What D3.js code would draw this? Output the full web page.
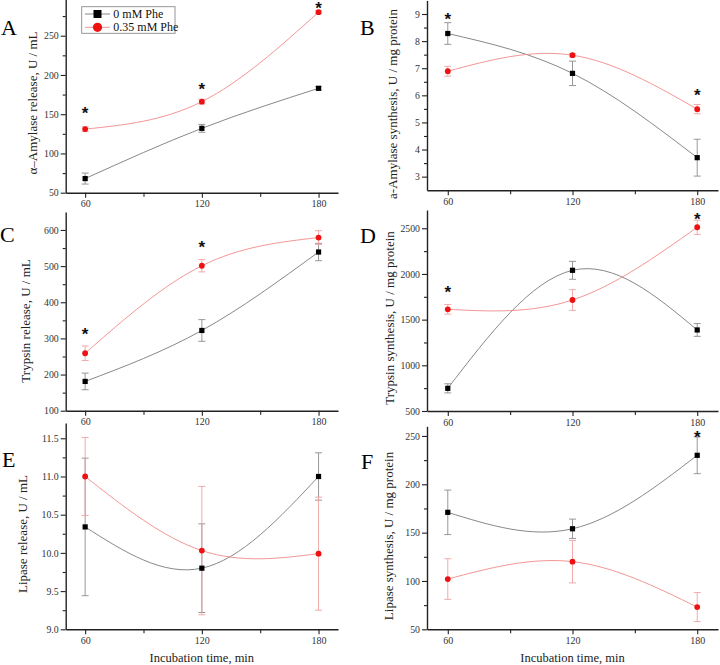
<!DOCTYPE html>
<html><head><meta charset="utf-8">
<script src="https://cdn.jsdelivr.net/npm/d3@7"></script>
<style>body{margin:0;background:#fff} svg{display:block}</style>
</head><body>
<svg id="chart" width="720" height="665"></svg>
<script>
// ---- data ----
const times = [60, 120, 180];
const xTicks = [60, 120, 180];
const xMinorTicks = [90, 150];
const seriesNames = ["0 mM Phe", "0.35 mM Phe"];

const amylRel0 = [68, 132, 183],      amylRel0Err = [7, 5, 2];
const amylRel35 = [131, 166, 280],    amylRel35Err = [3, 3, 2];
const amylSyn0 = [8.28, 6.81, 3.70],  amylSyn0Err = [0.40, 0.45, 0.68];
const amylSyn35 = [6.89, 7.48, 5.49], amylSyn35Err = [0.18, 0.06, 0.17];
const trypRel0 = [181, 322, 539],     trypRel0Err = [23, 30, 24];
const trypRel35 = [259, 501, 579],    trypRel35Err = [20, 17, 19];
const trypSyn0 = [748, 2040, 1387],   trypSyn0Err = [50, 98, 70];
const trypSyn35 = [1613, 1715, 2511], trypSyn35Err = [53, 113, 78];
const lipRel0 = [10.34, 9.80, 11.00], lipRel0Err = [0.90, 0.58, 0.31];
const lipRel35 = [11.00, 10.03, 9.99],lipRel35Err = [0.51, 0.84, 0.74];
const lipSyn0 = [171, 154, 230],      lipSyn0Err = [23, 10, 19];
const lipSyn35 = [102, 120, 73],      lipSyn35Err = [21, 22, 15];

// significance marks: [time, value]
const starsA = [[60, 156], [120, 187], [180, 290]];
const starsB = [[60, 8.97], [180, 6.16]];
const starsC = [[60, 323], [120, 563]];
const starsD = [[60, 1844], [180, 2647]];
const starsE = [];
const starsF = [[180, 253]];

const ticksA = [50, 100, 150, 200, 250],        minorA = [75, 125, 175, 225, 275];
const ticksB = [3, 4, 5, 6, 7, 8, 9],           minorB = [3.5, 4.5, 5.5, 6.5, 7.5, 8.5];
const ticksC = [100, 200, 300, 400, 500, 600],  minorC = [150, 250, 350, 450, 550];
const ticksD = [500, 1000, 1500, 2000, 2500],   minorD = [750, 1250, 1750, 2250];
const ticksE = [9.0, 9.5, 10.0, 10.5, 11.0, 11.5], minorE = [9.25, 9.75, 10.25, 10.75, 11.25];
const ticksF = [50, 100, 150, 200, 250],        minorF = [75, 125, 175, 225];

// ---- layout ----
const serif = "'Liberation Serif','Times New Roman',serif";
const colBlack = "#000", colBlackLine = "#7a7a7a", colBlackErr = "#8c8c8c";
const colRed = "#ee1111", colRedLine = "#f08a8a", colRedErr = "#f2a0a0";
const L = [65.7, 338], R = [427, 718];

const panels = [
  {letter:"A", title:"α–Amylase release, U / mL", v0:amylRel0, e0:amylRel0Err, v1:amylRel35, e1:amylRel35Err,
   stars:starsA, domain:[50,300], yRange:[192.7,-3.55], ticks:ticksA, minor:minorA, fmt:d3.format("d"),
   xRange:L, letterPos:[1,35], titlePos:[37,103], xTitle:false},
  {letter:"B", title:"a-Amylase synthesis, U / mg protein", v0:amylSyn0, e0:amylSyn0Err, v1:amylSyn35, e1:amylSyn35Err,
   stars:starsB, domain:[2.5,9.5], yRange:[190.2,0.45], ticks:ticksB, minor:minorB, fmt:d3.format("d"),
   xRange:R, letterPos:[360,35], titlePos:[397,104], xTitle:false},
  {letter:"C", title:"Trypsin release, U / mL", v0:trypRel0, e0:trypRel0Err, v1:trypRel35, e1:trypRel35Err,
   stars:starsC, domain:[100,650], yRange:[410.7,211.9], ticks:ticksC, minor:minorC, fmt:d3.format("d"),
   xRange:L, letterPos:[0,242], titlePos:[29.5,321], xTitle:false},
  {letter:"D", title:"Trypsin synthesis, U / mg protein", v0:trypSyn0, e0:trypSyn0Err, v1:trypSyn35, e1:trypSyn35Err,
   stars:starsD, domain:[500,2700], yRange:[411,210], ticks:ticksD, minor:minorD, fmt:d3.format("d"),
   xRange:R, letterPos:[360,243], titlePos:[394,318], xTitle:false},
  {letter:"E", title:"Lipase release, U / mL", v0:lipRel0, e0:lipRel0Err, v1:lipRel35, e1:lipRel35Err,
   stars:starsE, domain:[9,11.7], yRange:[629.3,423], ticks:ticksE, minor:minorE, fmt:d3.format(".1f"),
   xRange:L, letterPos:[2,467], titlePos:[27,534], xTitle:true},
  {letter:"F", title:"Lipase synthesis, U / mg protein", v0:lipSyn0, e0:lipSyn0Err, v1:lipSyn35, e1:lipSyn35Err,
   stars:starsF, domain:[50,260], yRange:[629.3,426.3], ticks:ticksF, minor:minorF, fmt:d3.format("d"),
   xRange:R, letterPos:[361,469], titlePos:[393,536], xTitle:true}
];

const svg = d3.select("#chart");

function styleAxis(sel) {
  sel.select(".domain").attr("stroke", "#222").attr("stroke-width", 1.4);
  sel.selectAll(".tick line").attr("stroke", "#222").attr("stroke-width", 1.1);
  sel.selectAll(".tick text").attr("fill", "#333").attr("font-family", serif);
}

panels.forEach(p => {
  const g = svg.append("g");
  const x = d3.scaleLinear().domain([50, 190]).range(p.xRange);
  const y = d3.scaleLinear().domain(p.domain).range(p.yRange);
  const x0 = p.xRange[0], yb = p.yRange[0];

  // Y axis
  const ya = g.append("g").attr("transform", `translate(${x0},0)`)
    .call(d3.axisLeft(y).tickValues(p.ticks).tickSize(5).tickSizeOuter(0).tickPadding(2).tickFormat(p.fmt));
  styleAxis(ya); ya.selectAll(".tick text").attr("font-size", 9.8);
  const ym = g.append("g").attr("transform", `translate(${x0},0)`)
    .call(d3.axisLeft(y).tickValues(p.minor).tickSize(3).tickFormat(""));
  ym.select(".domain").remove(); styleAxis(ym);

  // X axis
  const xa = g.append("g").attr("transform", `translate(0,${yb})`)
    .call(d3.axisBottom(x).tickValues(xTicks).tickSize(5).tickSizeOuter(0).tickPadding(2.5).tickFormat(d3.format("d")));
  styleAxis(xa); xa.selectAll(".tick text").attr("font-size", 10);
  const xm = g.append("g").attr("transform", `translate(0,${yb})`)
    .call(d3.axisBottom(x).tickValues(xMinorTicks).tickSize(4).tickFormat(""));
  xm.select(".domain").remove(); styleAxis(xm);

  // titles
  g.append("text").attr("transform", `translate(${p.titlePos[0]},${p.titlePos[1]}) rotate(-90)`)
    .attr("text-anchor", "middle").attr("font-family", serif).attr("font-size", 13).attr("fill", "#222")
    .text(p.title);
  if (p.xTitle) {
    g.append("text").attr("x", (p.xRange[0] + p.xRange[1]) / 2).attr("y", 662)
      .attr("text-anchor", "middle").attr("font-family", serif).attr("font-size", 12.5).attr("fill", "#222")
      .text("Incubation time, min");
  }
  g.append("text").attr("x", p.letterPos[0]).attr("y", p.letterPos[1])
    .attr("font-family", serif).attr("font-size", 22).attr("fill", "#000").text(p.letter);

  const series = [
    {v:p.v0, e:p.e0, line:colBlackLine, err:colBlackErr, fill:colBlack, shape:"square"},
    {v:p.v1, e:p.e1, line:colRedLine, err:colRedErr, fill:colRed, shape:"circle"}
  ];
  const line = d3.line().x(d => x(d[0])).y(d => y(d[1])).curve(d3.curveNatural);

  series.forEach(s => {
    const pts = times.map((t, i) => [t, s.v[i], s.e[i]]);
    const eb = g.append("g").attr("stroke", s.err).attr("stroke-width", 0.9).attr("fill", "none");
    pts.forEach(d => {
      const cx = x(d[0]), top = y(d[1] + d[2]), bot = y(d[1] - d[2]);
      eb.append("line").attr("x1", cx).attr("x2", cx).attr("y1", top).attr("y2", bot);
      eb.append("line").attr("x1", cx - 3.5).attr("x2", cx + 3.5).attr("y1", top).attr("y2", top);
      eb.append("line").attr("x1", cx - 3.5).attr("x2", cx + 3.5).attr("y1", bot).attr("y2", bot);
    });
    g.append("path").datum(pts).attr("d", line).attr("fill", "none")
      .attr("stroke", s.line).attr("stroke-width", 0.9);
  });
  series.forEach(s => {
    const pts = times.map((t, i) => [t, s.v[i]]);
    if (s.shape === "square") {
      g.selectAll(null).data(pts).enter().append("rect")
        .attr("x", d => x(d[0]) - 2.6).attr("y", d => y(d[1]) - 2.6)
        .attr("width", 5.2).attr("height", 5.2).attr("fill", s.fill);
    } else {
      g.selectAll(null).data(pts).enter().append("circle")
        .attr("cx", d => x(d[0])).attr("cy", d => y(d[1])).attr("r", 2.9).attr("fill", s.fill);
    }
  });

  // significance stars
  g.selectAll(null).data(p.stars).enter().append("text")
    .attr("x", d => x(d[0])).attr("y", d => y(d[1])).attr("dy", "0.58em")
    .attr("text-anchor", "middle").attr("font-family", "'Liberation Sans',Arial,sans-serif")
    .attr("font-weight", "bold").attr("font-size", 17).attr("fill", "#111").text("*");

  // legend in panel A
  if (p.letter === "A") {
    const lg = g.append("g");
    lg.append("rect").attr("x", 81.7).attr("y", 6.7).attr("width", 93.3).attr("height", 26.6)
      .attr("fill", "#fff").attr("stroke", "#8a8a8a").attr("stroke-width", 0.9);
    seriesNames.forEach((name, i) => {
      const cy = 14 + i * 13.3;
      lg.append("line").attr("x1", 85).attr("x2", 110).attr("y1", cy).attr("y2", cy)
        .attr("stroke", i ? colRedLine : colBlackLine).attr("stroke-width", 0.9);
      if (i === 0) lg.append("rect").attr("x", 93.5).attr("y", cy - 4).attr("width", 8).attr("height", 8).attr("fill", colBlack);
      else lg.append("circle").attr("cx", 97.5).attr("cy", cy).attr("r", 4.6).attr("fill", colRed);
      lg.append("text").attr("x", 113.3).attr("y", cy + 4).attr("font-family", serif)
        .attr("font-size", 12).attr("fill", "#111").text(name);
    });
  }
});
</script>
</body></html>
